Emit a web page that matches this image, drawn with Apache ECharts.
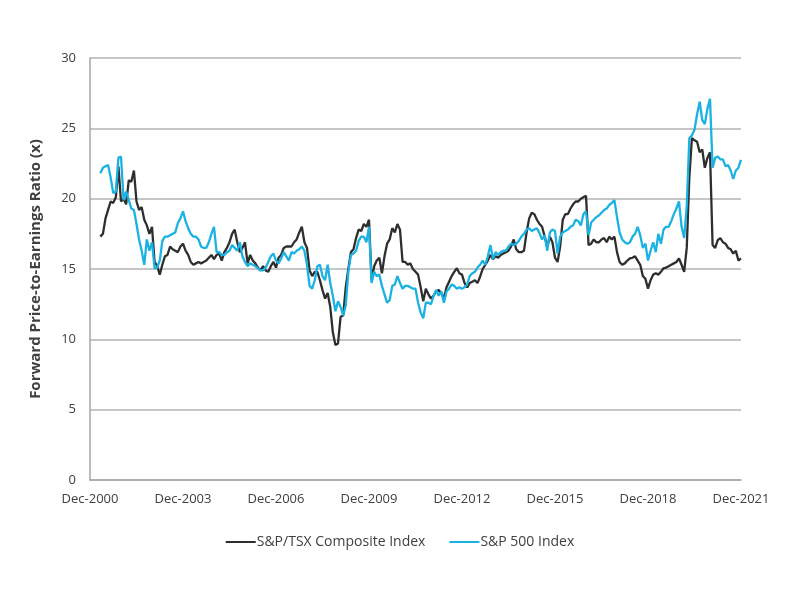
<!DOCTYPE html>
<html><head><meta charset="utf-8">
<script src="https://cdn.jsdelivr.net/npm/echarts@6/dist/echarts.min.js"></script>
<style>html,body{margin:0;padding:0;background:#fff}#c{width:800px;height:600px}</style>
</head><body><div id="c"></div>
<script>
// First observation: April 2001; monthly values through December 2021
const firstYear = 2001, firstMonth = 4;
const seriesNames = ['S&P/TSX Composite Index', 'S&P 500 Index'];
const xTickLabels = ['Dec-2000','Dec-2003','Dec-2006','Dec-2009','Dec-2012','Dec-2015','Dec-2018','Dec-2021'];
const yTickValues = [0, 5, 10, 15, 20, 25, 30];

const tsx = [
  17.3, 17.5, 18.6, 19.2, 19.8, 19.7, 20.1, 22.3, 19.8,
  20.0, 19.6, 21.3, 21.2, 22.0, 19.8, 19.2, 19.4, 18.5, 18.1, 17.5, 18.0,
  15.5, 15.2, 14.6, 15.3, 15.9, 16.0, 16.6, 16.4, 16.3, 16.2, 16.6, 16.8,
  16.3, 16.0, 15.5, 15.3, 15.4, 15.5, 15.4, 15.5, 15.6, 15.8, 16.0, 15.7,
  16.0, 16.1, 15.6, 16.2, 16.5, 16.9, 17.5, 17.8, 16.9, 16.2, 16.5, 16.9,
  15.4, 16.0, 15.6, 15.4, 15.1, 14.9, 15.2, 14.9, 14.8, 15.2, 15.5, 15.1,
  15.8, 16.0, 16.5, 16.6, 16.6, 16.6, 16.9, 17.1, 17.6, 18.0, 16.9, 16.5,
  14.9, 14.5, 14.8, 14.8, 14.2, 13.5, 12.9, 13.3, 12.3, 10.5, 9.6, 9.7,
  11.6, 11.7, 13.7, 15.0, 16.2, 16.4, 17.2, 17.8, 17.7, 18.2, 18.0, 18.5,
  14.2, 15.2, 15.6, 15.8, 14.7, 15.9, 16.8, 17.1, 17.9, 17.6, 18.2, 17.8,
  15.5, 15.5, 15.3, 15.4, 15.0, 14.8, 14.6, 13.7, 12.7, 13.6, 13.2, 12.9,
  13.1, 13.4, 13.5, 13.3, 12.9, 13.7, 14.1, 14.5, 14.8, 15.05, 14.7, 14.6,
  14.0, 13.7, 14.0, 14.1, 14.2, 14.0, 14.45, 15.0, 15.3, 15.6, 16.0, 15.7,
  15.9, 15.8, 16.0, 16.1, 16.2, 16.3, 16.6, 17.1, 16.4, 16.2, 16.2, 16.3,
  17.6, 18.6, 19.0, 18.9, 18.5, 18.2, 18.0, 17.3, 16.6, 17.3, 16.9, 15.8,
  15.5, 16.6, 18.5, 18.9, 18.9, 19.3, 19.6, 19.8, 19.8, 20.0, 20.1, 20.2,
  16.7, 16.8, 17.1, 16.9, 16.9, 17.1, 17.2, 16.9, 17.3, 17.1, 17.3, 16.2,
  15.5, 15.3, 15.4, 15.6, 15.75, 15.8, 15.9, 15.6, 15.3, 14.5, 14.3, 13.6,
  14.2, 14.6, 14.7, 14.6, 14.8, 15.05, 15.1, 15.2, 15.3, 15.4, 15.5, 15.75,
  15.3, 14.8, 16.5, 21.5, 24.3, 24.15, 24.05, 23.3, 23.5, 22.2, 22.9, 23.3,
  16.7, 16.5, 17.05, 17.2, 16.9, 16.8, 16.5, 16.4, 16.1, 16.3, 15.6, 15.75
];

const sp500 = [
  21.8, 22.2, 22.3, 22.4, 21.5, 20.4, 20.5, 22.9, 23.0,
  19.9, 20.5, 19.9, 19.3, 19.2, 18.2, 17.1, 16.3, 15.3, 17.1, 16.3, 16.9,
  15.05, 15.1, 15.6, 17.0, 17.3, 17.3, 17.4, 17.5, 17.6, 18.25, 18.6, 19.1,
  18.4, 17.9, 17.5, 17.3, 17.3, 17.1, 16.6, 16.5, 16.5, 16.9, 17.5, 18.0,
  16.2, 16.2, 16.0, 16.0, 16.2, 16.3, 16.7, 16.5, 16.3, 16.9, 15.9, 15.5,
  15.2, 15.4, 15.3, 15.2, 15.05, 14.9, 14.9, 15.1, 15.5, 15.9, 16.1, 15.6,
  15.4, 15.75, 16.2, 15.9, 15.6, 16.2, 16.1, 16.3, 16.4, 16.6, 16.3, 15.3,
  13.8, 13.6, 14.2, 15.2, 15.3, 14.5, 14.2, 15.3, 14.0, 13.1, 12.0, 12.7,
  12.3, 11.7, 12.4, 14.8, 16.0, 16.1, 16.3, 17.0, 17.3, 17.3, 16.9, 18.0,
  14.0, 14.8, 14.5, 14.6, 13.8, 13.2, 12.6, 12.8, 13.8, 13.9, 14.5, 14.0,
  13.6, 13.8, 13.8, 13.7, 13.6, 13.6, 12.6, 11.9, 11.5, 12.6, 12.6, 12.5,
  13.1, 13.5, 13.1, 13.4, 12.6, 13.4, 13.6, 13.9, 13.8, 13.6, 13.7, 13.6,
  13.7, 13.9, 14.5, 14.7, 14.8, 15.1, 15.3, 15.6, 15.3, 15.9, 16.7, 15.7,
  16.2, 16.0, 16.2, 16.3, 16.3, 16.6, 16.8, 16.7, 16.8, 17.0, 17.3, 17.5,
  17.8, 17.9, 17.7, 17.8, 17.9, 17.55, 17.1, 17.4, 16.3, 17.6, 17.8, 17.7,
  16.1, 17.3, 17.6, 17.7, 17.8, 18.0, 18.1, 18.5, 18.4, 18.1, 18.9, 19.1,
  17.4, 18.3, 18.5, 18.7, 18.8, 19.0, 19.2, 19.3, 19.55, 19.7, 19.9, 18.7,
  17.6, 17.1, 16.9, 16.8, 16.9, 17.3, 17.5, 18.0, 17.4, 16.5, 16.8, 15.6,
  16.3, 16.9, 16.2, 17.5, 16.8, 17.8, 18.0, 18.0, 18.4, 18.9, 19.3, 19.8,
  18.0, 17.2, 19.5, 24.3, 24.5, 24.9, 26.0, 26.9, 25.6, 25.3, 26.4, 27.1,
  22.2, 22.9, 23.0, 22.8, 22.8, 22.3, 22.4, 22.0, 21.4, 22.0, 22.2, 22.75
];

// x position = months elapsed since December 2000
const startOffset = (firstYear - 2000) * 12 + firstMonth - 12;
const toPairs = arr => arr.map((v, i) => [startOffset + i, v]);

const chart = echarts.init(document.getElementById('c'), null, {renderer: 'canvas'});
const FONT = 'Open Sans';
chart.setOption({
  animation: false,
  backgroundColor: '#ffffff',
  grid: {left: 90, right: 59, top: 58, bottom: 120, containLabel: false},
  legend: {
    bottom: 46, left: 'center',
    icon: 'rect', itemWidth: 30, itemHeight: 2, itemGap: 24,
    textStyle: {fontFamily: FONT, fontSize: 14, color: '#404040', padding: [0, 0, 0, -4]},
    data: seriesNames
  },
  xAxis: {
    type: 'value', min: 0, max: 252, interval: 36,
    axisLine: {show: true, lineStyle: {color: '#a6a6a6', width: 1.5}},
    axisTick: {show: false},
    splitLine: {show: false},
    axisLabel: {
      fontFamily: FONT, fontSize: 13, color: '#404040', margin: 13,
      showMinLabel: true, showMaxLabel: true,
      formatter: v => xTickLabels[Math.round(v / 36)]
    }
  },
  yAxis: {
    type: 'value', min: yTickValues[0], max: yTickValues[yTickValues.length - 1], interval: 5,
    name: 'Forward Price-to-Earnings Ratio (x)',
    nameLocation: 'middle', nameGap: 47, nameRotate: 90,
    nameTextStyle: {fontFamily: FONT, fontSize: 15, fontWeight: 'bold', color: '#404040'},
    axisLine: {show: true, lineStyle: {color: '#a6a6a6', width: 1.5}},
    axisTick: {show: false},
    splitLine: {show: true, lineStyle: {color: '#b3b3b3', width: 1.5}},
    axisLabel: {fontFamily: FONT, fontSize: 13, color: '#404040', margin: 14}
  },
  series: [
    {name: seriesNames[0], type: 'line', data: toPairs(tsx), showSymbol: false, symbol: 'none',
     lineStyle: {color: '#2e2e2e', width: 2.3}, itemStyle: {color: '#2e2e2e'}},
    {name: seriesNames[1], type: 'line', data: toPairs(sp500), showSymbol: false, symbol: 'none',
     lineStyle: {color: '#1ab2e2', width: 2.3}, itemStyle: {color: '#1ab2e2'}}
  ]
});
</script>
</body></html>
